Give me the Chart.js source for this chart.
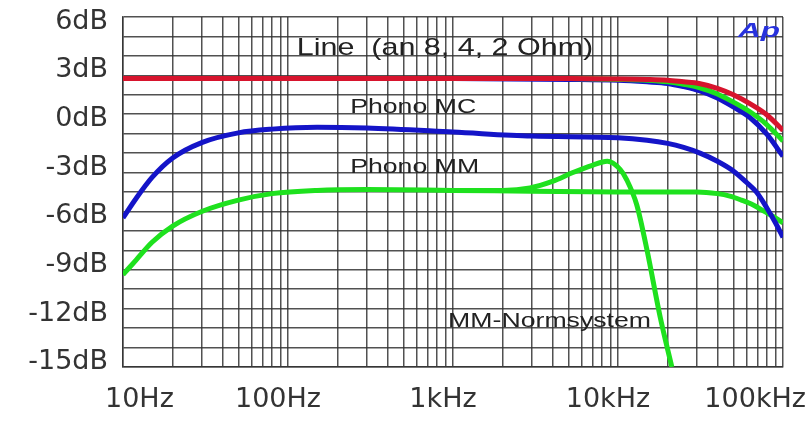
<!DOCTYPE html>
<html>
<head>
<meta charset="utf-8">
<script src="https://cdn.jsdelivr.net/npm/chart.js@4.4.1/dist/chart.umd.min.js"></script>
<style>
html, body { margin: 0; padding: 0; background: #fff; }
</style>
</head>
<body>
<canvas id="c" width="806" height="423"></canvas>
<script>
// Frequenzgang-Daten (Hz / dB)
var lineFreqs = [10, 100, 1000, 5000, 10000, 15000, 20000, 25000, 31000, 40000, 50000, 63000, 80000, 100000];
var lineRed   = [2.5, 2.5, 2.5, 2.5, 2.48, 2.45, 2.4, 2.3, 2.2, 1.9, 1.5, 0.95, 0.25, -0.7];
var lineGreen = [2.5, 2.5, 2.5, 2.5, 2.45, 2.4, 2.3, 2.15, 1.95, 1.55, 1.05, 0.45, -0.35, -1.35];
var lineBlue  = [2.5, 2.5, 2.5, 2.45, 2.4, 2.3, 2.2, 2.0, 1.75, 1.3, 0.75, 0.1, -0.95, -2.3];

var mcFreqs = [10, 12, 15, 20, 30, 50, 80, 150, 300, 1000, 3000, 10000, 15000, 20000, 25000, 31400, 40000, 50000, 60000, 69000, 80000, 90000, 100000];
var mcVals  = [-6.1, -4.9, -3.6, -2.4, -1.45, -0.85, -0.62, -0.5, -0.55, -0.8, -1.05, -1.15, -1.3, -1.5, -1.75, -2.1, -2.6, -3.2, -3.9, -4.5, -5.5, -6.4, -7.3];

var mmFreqs = [10, 12, 15, 20, 30, 50, 80, 150, 300, 1000, 3000, 10000, 30000, 40000, 47600, 56000, 66000, 77000, 87000, 100000];
var mmVals  = [-9.6, -8.7, -7.6, -6.6, -5.7, -5.0, -4.6, -4.4, -4.35, -4.4, -4.45, -4.5, -4.5, -4.6, -4.75, -5.0, -5.3, -5.7, -6.0, -6.4];

var normFreqs = [1000, 2000, 2930, 4000, 5330, 7000, 8600, 10300, 11300, 13000, 15000, 18000, 21200];
var normVals  = [-4.4, -4.4, -4.25, -3.85, -3.3, -2.85, -2.6, -3.1, -3.75, -5.3, -8.1, -12.2, -15.3];

// Achsen
var yTickValues = [6, 3, 0, -3, -6, -9, -12, -15];
var yTickLabels = ['6dB', '3dB', '0dB', '-3dB', '-6dB', '-9dB', '-12dB', '-15dB'];
var xTickValues = [10, 100, 1000, 10000, 100000];
var xTickLabels = ['10Hz', '100Hz', '1kHz', '10kHz', '100kHz'];

// Beschriftungen im Diagramm
var annoTexts = ['Line  (an 8, 4, 2 Ohm)', 'Phono MC', 'Phono MM', 'MM-Normsystem'];
var annoFreqs = [113, 238, 238, 934];
var annoDb    = [3.95, 0.38, -3.33, -12.83];

function punkte(fx, fy) {
  var data = [];
  for (var i = 0; i < fx.length; i++) {
    data.push({ x: fx[i], y: fy[i] });
  }
  return data;
}

function serie(label, fx, fy, color) {
  return {
    label: label,
    data: punkte(fx, fy),
    borderColor: color,
    borderWidth: 5,
    pointRadius: 0,
    fill: false,
    cubicInterpolationMode: 'monotone'
  };
}

var gridColor = 'rgba(50,50,50,0.85)';

var textPlugin = {
  id: 'texte',
  afterDraw: function(chart) {
    var ctx = chart.ctx;
    var sx = chart.scales.x, sy = chart.scales.y;
    var area = chart.chartArea;
    ctx.save();
    // x-Beschriftung
    ctx.font = '27px "DejaVu Sans"';
    ctx.fillStyle = '#333';
    ctx.textBaseline = 'alphabetic';
    for (var i = 0; i < xTickValues.length; i++) {
      var px = sx.getPixelForValue(xTickValues[i]);
      if (i == 0) {
        ctx.textAlign = 'left';
        px = px - 18;
      } else if (i == xTickValues.length - 1) {
        ctx.textAlign = 'right';
        px = chart.width;
      } else {
        ctx.textAlign = 'center';
        px = px - 10;
      }
      ctx.fillText(xTickLabels[i], px, area.bottom + 40);
    }
    // Kurvenbeschriftungen
    ctx.fillStyle = '#222';
    ctx.textAlign = 'left';
    for (var j = 0; j < annoTexts.length; j++) {
      ctx.save();
      ctx.translate(sx.getPixelForValue(annoFreqs[j]), sy.getPixelForValue(annoDb[j]));
      ctx.scale(1.27, 1);
      ctx.font = (j == 0 ? '24px' : '21px') + ' "Liberation Sans"';
      ctx.fillText(annoTexts[j], 0, 0);
      ctx.restore();
    }
    // Ap Logo
    ctx.save();
    ctx.translate(sx.getPixelForValue(96000), sy.getPixelForValue(5.07));
    ctx.scale(1.5, 1);
    ctx.textAlign = 'right';
    ctx.fillStyle = 'rgb(40,50,220)';
    ctx.font = 'italic bold 21px "Liberation Sans"';
    ctx.fillText('Ap', 0, 0);
    ctx.restore();
    ctx.restore();
  }
};

// erste Serie liegt oben
new Chart(document.getElementById('c'), {
  type: 'line',
  data: {
    datasets: [
      serie('Line rot', lineFreqs, lineRed, 'rgb(215,20,45)'),
      serie('Line gruen', lineFreqs, lineGreen, 'rgb(30,225,30)'),
      serie('Line blau', lineFreqs, lineBlue, 'rgb(20,20,200)'),
      serie('Phono MC', mcFreqs, mcVals, 'rgb(20,20,200)'),
      serie('MM-Normsystem', normFreqs, normVals, 'rgb(30,225,30)'),
      serie('Phono MM', mmFreqs, mmVals, 'rgb(30,225,30)')
    ]
  },
  options: {
    responsive: false,
    animation: false,
    layout: { padding: { top: 17, right: 23, left: 0, bottom: 0 } },
    plugins: { legend: { display: false }, tooltip: { enabled: false } },
    scales: {
      x: {
        type: 'logarithmic',
        min: 10,
        max: 100000,
        afterBuildTicks: function(scale) {
          var t = [];
          for (var d = 10; d < 100000; d *= 10) {
            for (var k = 1; k < 10; k++) t.push({ value: d * k });
          }
          t.push({ value: 100000 });
          scale.ticks = t;
        },
        afterFit: function(scale) { scale.height = 56; },
        ticks: { display: false, autoSkip: false },
        grid: { color: gridColor, lineWidth: 1.5, drawTicks: false },
        border: { color: gridColor, width: 1.5 }
      },
      y: {
        min: -15.3,
        max: 6.3,
        afterBuildTicks: function(scale) {
          var t = [];
          for (var i = 0; i <= 18; i++) t.push({ value: +(6.3 - i * 1.2).toFixed(1), grid: true });
          yTickValues.forEach(function(v) { t.push({ value: v, grid: false }); });
          t.sort(function(a, b) { return a.value - b.value; });
          scale.ticks = t;
        },
        afterFit: function(scale) {
          scale.width = 123;
          scale.paddingTop = 0;
          scale.paddingBottom = 0;
        },
        ticks: {
          autoSkip: false,
          padding: 15,
          color: '#333',
          font: { family: 'DejaVu Sans', size: 27 },
          callback: function(value, index, ticks) {
            if (ticks[index].grid) return '';
            var n = yTickValues.indexOf(value);
            return n >= 0 ? yTickLabels[n] : '';
          }
        },
        grid: {
          drawTicks: false,
          lineWidth: 1.5,
          color: function(ctx) {
            return ctx.tick && ctx.tick.grid ? gridColor : 'rgba(0,0,0,0)';
          }
        },
        border: { color: gridColor, width: 1.5 }
      }
    }
  },
  plugins: [textPlugin]
});
</script>
</body>
</html>
